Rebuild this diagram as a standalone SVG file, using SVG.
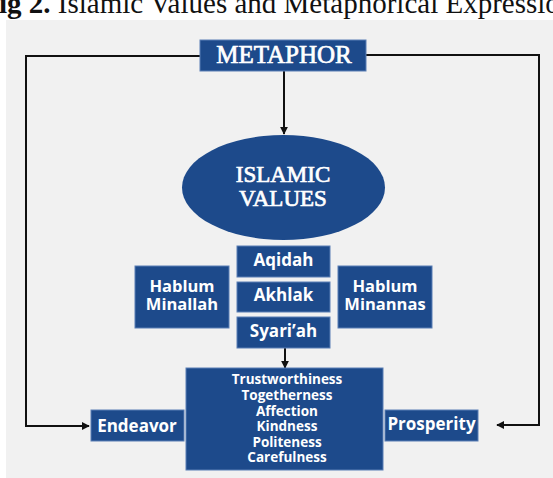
<svg xmlns="http://www.w3.org/2000/svg" width="553" height="478" viewBox="0 0 553 478">
<style>
.box{fill:#1d4a8b;stroke:#5b7fb5;stroke-width:1}
.lbl{font-family:"Open Sans","DejaVu Sans",sans-serif;font-weight:bold;fill:#ffffff;text-anchor:middle}
.ser{font-family:"Liberation Serif","Times New Roman",serif;fill:#ffffff;stroke:#ffffff;stroke-width:0.7;text-anchor:middle}
.con{fill:none;stroke:#111111;stroke-width:2}
</style>
<defs>
<marker id="ah" viewBox="0 0 10 10" refX="9" refY="5" markerWidth="4" markerHeight="4" orient="auto" markerUnits="strokeWidth">
<path d="M0,0 L10,5 L0,10 z" fill="#111111"/>
</marker>
</defs>
<rect x="0" y="0" width="553" height="478" fill="#ffffff"/>
<text x="-1" y="13" font-family="Liberation Serif, Times New Roman, serif" font-size="29" fill="#111111"><tspan font-weight="bold">ig 2.</tspan> Islamic Values and Metaphorical Expressio</text>
<rect x="6" y="20" width="547" height="458" fill="#f1f1f1"/>
<g id="connectors">
<path class="con" d="M200,56 H26 V426 H89" marker-end="url(#ah)"/>
<path class="con" d="M366,55 H539 V425 H497" marker-end="url(#ah)"/>
<path class="con" d="M284,71 V134" marker-end="url(#ah)"/>
<path class="con" d="M285,348 V368" marker-end="url(#ah)"/>
</g>
<g id="metaphor">
<rect class="box" x="200" y="40" width="166" height="31"/>
<text class="ser" x="284" y="63" font-size="25">METAPHOR</text>
</g>
<g id="islamic-values">
<ellipse cx="283.5" cy="187.5" rx="101.5" ry="52.5" fill="#1d4a8b"/>
<text class="ser" x="283" y="182" font-size="23">ISLAMIC</text>
<text class="ser" x="283" y="206" font-size="23">VALUES</text>
</g>
<g id="aqidah">
<rect class="box" x="237" y="246" width="93" height="31"/>
<text class="lbl" x="283.5" y="266" font-size="17">Aqidah</text>
</g>
<g id="akhlak">
<rect class="box" x="237" y="282" width="93" height="30"/>
<text class="lbl" x="283.5" y="301" font-size="17">Akhlak</text>
</g>
<g id="syariah">
<rect class="box" x="237" y="317" width="93" height="31"/>
<text class="lbl" x="283.5" y="337" font-size="17">Syari’ah</text>
</g>
<g id="hablum-minallah">
<rect class="box" x="135" y="266" width="94" height="62"/>
<text class="lbl" x="182" y="292" font-size="16.5">Hablum</text>
<text class="lbl" x="182" y="310" font-size="16.5">Minallah</text>
</g>
<g id="hablum-minannas">
<rect class="box" x="338" y="266" width="94" height="62"/>
<text class="lbl" x="385" y="292" font-size="16.5">Hablum</text>
<text class="lbl" x="385" y="310" font-size="16.5">Minannas</text>
</g>
<g id="values-list">
<rect class="box" x="186" y="368" width="197" height="102"/>
<text class="lbl" x="287" y="384" font-size="13.5">Trustworthiness</text>
<text class="lbl" x="287" y="400" font-size="13.5">Togetherness</text>
<text class="lbl" x="287" y="415.5" font-size="13.5">Affection</text>
<text class="lbl" x="287" y="431" font-size="13.5">Kindness</text>
<text class="lbl" x="287" y="446.5" font-size="13.5">Politeness</text>
<text class="lbl" x="287" y="462" font-size="13.5">Carefulness</text>
</g>
<g id="endeavor">
<rect class="box" x="91" y="410" width="93" height="31"/>
<text class="lbl" x="137" y="432" font-size="17">Endeavor</text>
</g>
<g id="prosperity">
<rect class="box" x="385" y="410" width="93" height="31"/>
<text class="lbl" x="431.5" y="430" font-size="17">Prosperity</text>
</g>
</svg>
